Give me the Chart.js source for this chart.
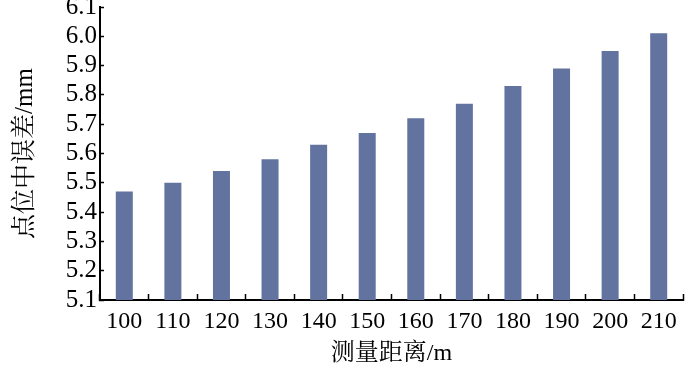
<!DOCTYPE html>
<html>
<head>
<meta charset="utf-8">
<script src="https://cdn.jsdelivr.net/npm/chart.js@4"></script>
<style>
  html, body { margin: 0; padding: 0; background: #fff; }
  #wrap { width: 700px; height: 367px; }
</style>
</head>
<body>
<div id="wrap"><canvas id="chart" width="700" height="367"></canvas></div>
<script>
// 测量距离 vs 点位中误差
const distances = ['100', '110', '120', '130', '140', '150', '160', '170', '180', '190', '200', '210'];
const pointErrors = [5.47, 5.50, 5.54, 5.58, 5.63, 5.67, 5.72, 5.77, 5.83, 5.89, 5.95, 6.01];
const yTicks = [5.1, 5.2, 5.3, 5.4, 5.5, 5.6, 5.7, 5.8, 5.9, 6.0, 6.1];

const serif = '"Liberation Serif", "Times New Roman", "Noto Serif CJK SC", "Noto Sans CJK SC", serif';

const ctx = document.getElementById('chart');

new Chart(ctx, {
  type: 'bar',
  data: {
    labels: distances,
    datasets: [{
      data: pointErrors,
      backgroundColor: 'rgb(98,115,160)',
      barPercentage: 0.35,
      categoryPercentage: 1.0
    }]
  },
  options: {
    responsive: false,
    animation: false,
    devicePixelRatio: 1,
    layout: { padding: { top: 0, right: 17, bottom: 0, left: 0 } },
    plugins: {
      legend: { display: false },
      tooltip: { enabled: false }
    },
    scales: {
      x: {
        afterFit: (axis) => { axis.height = 67; },
        grid: {
          offset: true,
          drawOnChartArea: false,
          tickLength: -6,
          tickWidth: 1.5,
          color: '#000'
        },
        border: { color: '#000', width: 2 },
        ticks: {
          color: '#000',
          padding: 16,
          font: { family: serif, size: 24, lineHeight: 1.0 },
          maxRotation: 0
        },
        title: {
          display: true,
          text: '测量距离/m',
          color: '#000',
          padding: { top: 0, bottom: 1 },
          font: { family: serif, size: 24, lineHeight: 1.0 }
        }
      },
      y: {
        min: 5.1,
        max: 6.1,
        afterBuildTicks: (axis) => {
          axis.ticks = yTicks.map(v => ({ value: v }));
        },
        afterFit: (axis) => {
          axis.width = 100;
          axis.paddingTop = 7;
          axis.paddingBottom = 0;
        },
        grid: {
          drawOnChartArea: false,
          tickLength: -4,
          tickWidth: 1.5,
          color: '#000'
        },
        border: { color: '#000', width: 2 },
        ticks: {
          color: '#000',
          padding: 7,
          font: { family: serif, size: 25, lineHeight: 1.0 },
          callback: (v) => Number(v).toFixed(1)
        },
        title: {
          display: true,
          text: '点位中误差/mm',
          color: '#000',
          padding: { top: 13, bottom: 0 },
          font: { family: serif, size: 25, lineHeight: 1.0 }
        }
      }
    }
  }
});
</script>
</body>
</html>
